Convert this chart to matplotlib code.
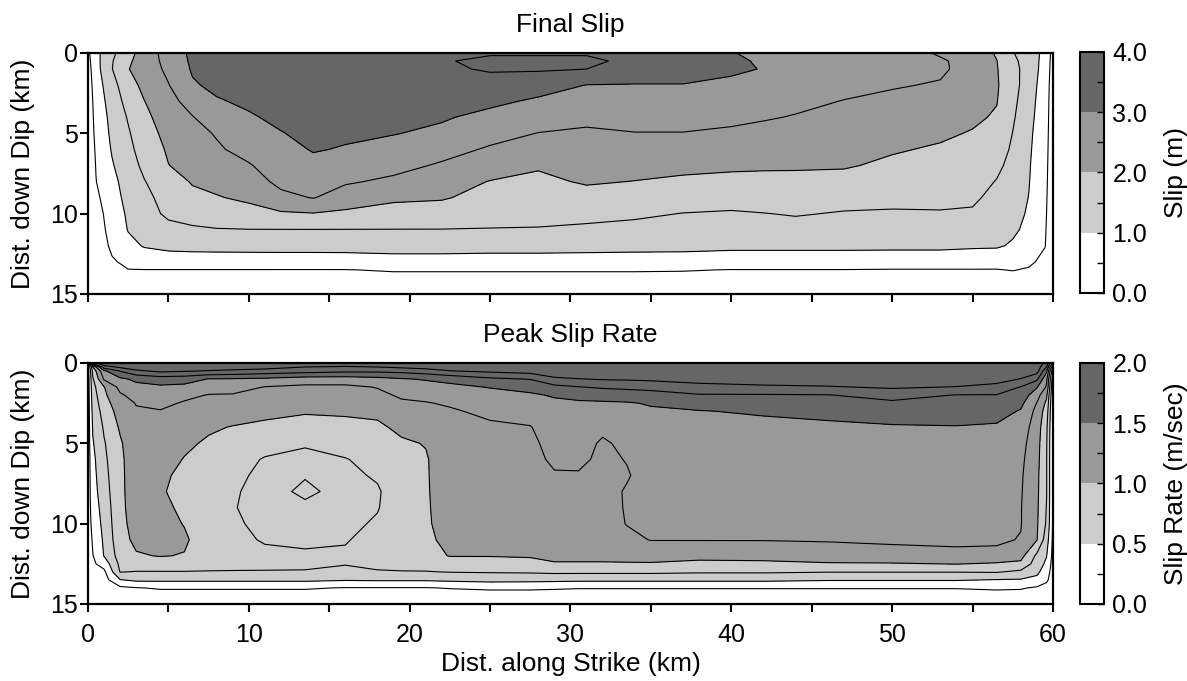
import numpy as np
import matplotlib
matplotlib.use("Agg")
import matplotlib.pyplot as plt
from matplotlib.colors import ListedColormap, BoundaryNorm
from matplotlib.cm import ScalarMappable

plt.rcParams['font.family'] = ['Liberation Sans', 'DejaVu Sans']

# ---- Final slip (m): one depth profile per strike position ----
slip_strike = [0, 0.5, 1.5, 2.5, 3.5, 5, 6.5, 8, 10, 12, 14, 16, 19, 22, 25, 28,
               31, 34, 37, 40, 42, 44, 47, 50, 53, 55, 56.5, 57.5, 58.5, 59.5, 60]
slip_dip = [0, 0.5, 1, 2, 3, 4, 5, 6, 7, 8, 9, 10, 11, 12, 13, 13.5, 14, 15]
slip_cols = [
    [0.40, 0.35, 0.30, 0.25, 0.20, 0.20, 0.18, 0.16, 0.14, 0.12, 0.10, 0.08, 0.06, 0.05, 0.03, 0.02, 0.01, 0.00],
    [0.86, 0.84, 0.82, 0.75, 0.70, 0.65, 0.61, 0.56, 0.52, 0.49, 0.40, 0.30, 0.25, 0.20, 0.15, 0.12, 0.10, 0.03],
    [1.40, 1.47, 1.49, 1.34, 1.23, 1.15, 1.10, 1.04, 0.96, 0.88, 0.81, 0.74, 0.68, 0.59, 0.45, 0.35, 0.25, 0.10],
    [1.83, 1.92, 1.98, 1.79, 1.67, 1.54, 1.45, 1.38, 1.30, 1.19, 1.14, 1.07, 1.02, 0.88, 0.60, 0.49, 0.40, 0.15],
    [2.21, 2.23, 2.23, 2.13, 1.99, 1.89, 1.80, 1.70, 1.60, 1.48, 1.38, 1.31, 1.10, 1.03, 0.75, 0.49, 0.40, 0.15],
    [2.72, 2.66, 2.60, 2.48, 2.34, 2.23, 2.14, 2.06, 1.99, 1.79, 1.68, 1.59, 1.36, 1.12, 0.75, 0.49, 0.40, 0.15],
    [3.10, 3.08, 3.05, 2.95, 2.70, 2.48, 2.38, 2.27, 2.16, 2.04, 1.88, 1.67, 1.44, 1.15, 0.75, 0.49, 0.40, 0.15],
    [3.25, 3.22, 3.20, 3.10, 2.96, 2.76, 2.53, 2.45, 2.30, 2.13, 1.97, 1.71, 1.48, 1.16, 0.75, 0.49, 0.40, 0.15],
    [3.35, 3.32, 3.30, 3.20, 3.08, 2.95, 2.80, 2.63, 2.47, 2.28, 2.09, 1.83, 1.49, 1.17, 0.75, 0.49, 0.40, 0.15],
    [3.40, 3.37, 3.35, 3.30, 3.20, 3.10, 2.98, 2.85, 2.70, 2.62, 2.38, 1.94, 1.49, 1.17, 0.76, 0.49, 0.40, 0.15],
    [3.45, 3.42, 3.40, 3.35, 3.28, 3.20, 3.12, 3.03, 2.88, 2.70, 2.52, 1.98, 1.49, 1.17, 0.76, 0.49, 0.40, 0.15],
    [3.45, 3.42, 3.40, 3.33, 3.25, 3.16, 3.07, 2.97, 2.76, 2.55, 2.30, 1.90, 1.49, 1.17, 0.77, 0.49, 0.40, 0.15],
    [3.45, 3.44, 3.42, 3.33, 3.22, 3.12, 3.02, 2.83, 2.63, 2.42, 2.09, 1.80, 1.49, 1.20, 0.80, 0.53, 0.40, 0.15],
    [3.45, 3.46, 3.42, 3.30, 3.18, 3.05, 2.90, 2.65, 2.45, 2.25, 2.05, 1.75, 1.49, 1.20, 0.80, 0.53, 0.40, 0.15],
    [3.45, 3.60, 3.55, 3.30, 3.10, 2.87, 2.65, 2.45, 2.30, 1.98, 1.82, 1.67, 1.48, 1.17, 0.80, 0.53, 0.40, 0.15],
    [3.45, 3.60, 3.55, 3.20, 2.93, 2.70, 2.49, 2.30, 2.05, 1.90, 1.80, 1.65, 1.47, 1.17, 0.80, 0.53, 0.40, 0.15],
    [3.45, 3.60, 3.50, 2.99, 2.80, 2.58, 2.45, 2.33, 2.20, 2.05, 1.83, 1.63, 1.42, 1.15, 0.80, 0.53, 0.40, 0.15],
    [3.40, 3.38, 3.25, 2.98, 2.80, 2.62, 2.49, 2.33, 2.17, 1.99, 1.78, 1.57, 1.38, 1.13, 0.80, 0.53, 0.40, 0.15],
    [3.40, 3.35, 3.25, 2.98, 2.80, 2.62, 2.49, 2.30, 2.12, 1.92, 1.71, 1.49, 1.33, 1.12, 0.80, 0.52, 0.40, 0.15],
    [3.02, 3.10, 3.08, 2.90, 2.73, 2.57, 2.45, 2.28, 2.08, 1.88, 1.66, 1.46, 1.30, 1.10, 0.75, 0.49, 0.40, 0.15],
    [2.90, 2.93, 2.98, 2.82, 2.68, 2.53, 2.40, 2.25, 2.06, 1.88, 1.70, 1.49, 1.32, 1.10, 0.75, 0.49, 0.40, 0.15],
    [2.80, 2.80, 2.78, 2.68, 2.58, 2.48, 2.37, 2.23, 2.05, 1.89, 1.74, 1.53, 1.35, 1.10, 0.75, 0.49, 0.40, 0.15],
    [2.75, 2.73, 2.70, 2.60, 2.49, 2.40, 2.29, 2.17, 2.04, 1.86, 1.65, 1.47, 1.32, 1.10, 0.75, 0.49, 0.40, 0.15],
    [2.72, 2.68, 2.63, 2.53, 2.42, 2.30, 2.17, 2.04, 1.92, 1.78, 1.60, 1.46, 1.30, 1.10, 0.72, 0.48, 0.38, 0.14],
    [2.45, 2.55, 2.56, 2.47, 2.35, 2.22, 2.07, 1.95, 1.83, 1.73, 1.60, 1.47, 1.30, 1.10, 0.72, 0.48, 0.38, 0.14],
    [2.30, 2.35, 2.35, 2.30, 2.20, 2.08, 1.97, 1.88, 1.78, 1.68, 1.57, 1.45, 1.28, 1.06, 0.72, 0.48, 0.38, 0.14],
    [1.95, 2.01, 2.03, 2.05, 2.02, 1.95, 1.85, 1.72, 1.60, 1.48, 1.38, 1.30, 1.20, 1.05, 0.70, 0.48, 0.36, 0.13],
    [1.52, 1.60, 1.65, 1.68, 1.62, 1.56, 1.49, 1.43, 1.36, 1.30, 1.22, 1.15, 1.07, 0.95, 0.65, 0.52, 0.35, 0.12],
    [1.30, 1.30, 1.30, 1.25, 1.20, 1.15, 1.10, 1.07, 1.04, 1.02, 0.99, 0.95, 0.90, 0.80, 0.60, 0.45, 0.30, 0.10],
    [0.85, 0.82, 0.80, 0.75, 0.72, 0.70, 0.68, 0.66, 0.64, 0.62, 0.60, 0.58, 0.55, 0.52, 0.35, 0.25, 0.20, 0.05],
    [0.35, 0.32, 0.30, 0.28, 0.27, 0.26, 0.25, 0.24, 0.23, 0.22, 0.20, 0.18, 0.16, 0.14, 0.10, 0.08, 0.05, 0.00],
]

# ---- Peak slip rate (m/sec): one depth profile per strike position ----
rate_strike = [0, 0.3, 1, 2, 3, 4.5, 6, 7.5, 9, 11, 13.5, 16, 18, 19.5, 21, 22.5, 25,
               27.5, 29, 30.5, 32, 33.5, 35, 38, 42, 46, 50, 54, 56.5, 58, 59, 59.6, 60]
rate_dip = [0, 0.25, 0.5, 1, 1.5, 2, 2.5, 3, 4, 5, 6, 7, 8, 9, 10, 11, 12, 12.5, 13, 13.5, 14, 15]
rate_cols = [
    [0.20, 0.15, 0.15, 0.12, 0.12, 0.12, 0.12, 0.12, 0.12, 0.12, 0.12, 0.12, 0.12, 0.12, 0.12, 0.10, 0.08, 0.05, 0.03, 0.02, 0.01, 0.00],
    [1.90, 1.00, 0.82, 0.72, 0.67, 0.63, 0.60, 0.57, 0.52, 0.48, 0.44, 0.42, 0.40, 0.37, 0.33, 0.28, 0.24, 0.21, 0.18, 0.15, 0.10, 0.00],
    [2.20, 1.88, 1.45, 1.28, 0.99, 0.95, 0.90, 0.85, 0.78, 0.73, 0.70, 0.67, 0.64, 0.60, 0.57, 0.54, 0.51, 0.35, 0.20, 0.15, 0.10, 0.02],
    [2.30, 2.05, 1.76, 1.45, 1.32, 1.22, 1.15, 1.10, 1.03, 0.97, 0.95, 0.95, 0.95, 0.95, 0.94, 0.92, 0.86, 0.81, 0.76, 0.49, 0.20, 0.05],
    [2.35, 2.15, 1.95, 1.55, 1.43, 1.33, 1.26, 1.23, 1.20, 1.17, 1.15, 1.13, 1.12, 1.10, 1.08, 1.05, 0.98, 0.88, 0.74, 0.55, 0.24, 0.05],
    [2.35, 2.20, 2.05, 1.62, 1.46, 1.38, 1.30, 1.24, 1.18, 1.13, 1.09, 1.05, 1.02, 1.05, 1.08, 1.07, 1.01, 0.90, 0.74, 0.55, 0.27, 0.05],
    [2.30, 2.18, 2.02, 1.60, 1.44, 1.30, 1.23, 1.18, 1.10, 1.04, 0.99, 0.94, 0.94, 0.96, 0.99, 1.03, 0.99, 0.90, 0.74, 0.55, 0.27, 0.05],
    [2.30, 2.15, 1.98, 1.49, 1.35, 1.24, 1.18, 1.12, 1.03, 0.97, 0.92, 0.88, 0.86, 0.86, 0.87, 0.88, 0.86, 0.82, 0.74, 0.55, 0.27, 0.05],
    [2.30, 2.12, 1.95, 1.48, 1.36, 1.23, 1.16, 1.10, 0.99, 0.93, 0.86, 0.80, 0.77, 0.76, 0.78, 0.81, 0.82, 0.80, 0.74, 0.55, 0.27, 0.05],
    [2.30, 2.10, 1.90, 1.45, 1.24, 1.18, 1.12, 1.05, 0.96, 0.85, 0.73, 0.70, 0.69, 0.69, 0.70, 0.73, 0.80, 0.79, 0.74, 0.55, 0.27, 0.05],
    [2.30, 2.00, 1.85, 1.38, 1.20, 1.14, 1.08, 1.02, 0.92, 0.77, 0.70, 0.74, 0.78, 0.72, 0.69, 0.71, 0.78, 0.78, 0.74, 0.55, 0.27, 0.05],
    [2.30, 1.95, 1.80, 1.38, 1.20, 1.14, 1.08, 1.03, 0.94, 0.84, 0.74, 0.71, 0.70, 0.70, 0.71, 0.74, 0.77, 0.76, 0.70, 0.52, 0.24, 0.05],
    [2.30, 2.00, 1.80, 1.42, 1.26, 1.20, 1.12, 1.05, 0.96, 0.89, 0.82, 0.77, 0.73, 0.74, 0.77, 0.80, 0.80, 0.78, 0.74, 0.53, 0.24, 0.05],
    [2.30, 2.05, 1.82, 1.48, 1.37, 1.28, 1.22, 1.15, 1.05, 0.97, 0.92, 0.88, 0.86, 0.86, 0.87, 0.88, 0.87, 0.82, 0.74, 0.53, 0.24, 0.05],
    [2.30, 2.10, 1.88, 1.52, 1.40, 1.30, 1.24, 1.20, 1.10, 1.01, 0.98, 0.98, 0.98, 0.98, 0.98, 0.97, 0.92, 0.85, 0.74, 0.53, 0.24, 0.05],
    [2.30, 2.12, 1.99, 1.56, 1.45, 1.35, 1.27, 1.23, 1.19, 1.16, 1.14, 1.12, 1.10, 1.08, 1.06, 1.04, 1.01, 0.88, 0.76, 0.55, 0.26, 0.05],
    [2.35, 2.20, 2.05, 1.70, 1.51, 1.43, 1.35, 1.29, 1.22, 1.18, 1.15, 1.13, 1.11, 1.09, 1.07, 1.05, 1.01, 0.90, 0.77, 0.58, 0.28, 0.05],
    [2.35, 2.25, 2.10, 1.76, 1.57, 1.47, 1.40, 1.34, 1.24, 1.20, 1.18, 1.16, 1.14, 1.12, 1.09, 1.06, 1.02, 0.93, 0.78, 0.57, 0.28, 0.05],
    [2.40, 2.30, 2.18, 1.95, 1.68, 1.52, 1.46, 1.42, 1.37, 1.33, 1.29, 1.23, 1.18, 1.15, 1.12, 1.08, 1.03, 0.99, 0.80, 0.56, 0.27, 0.05],
    [2.40, 2.32, 2.22, 1.99, 1.74, 1.56, 1.47, 1.43, 1.38, 1.34, 1.30, 1.23, 1.18, 1.15, 1.12, 1.08, 1.03, 0.99, 0.80, 0.55, 0.26, 0.05],
    [2.40, 2.32, 2.22, 2.02, 1.78, 1.60, 1.47, 1.42, 1.30, 1.22, 1.20, 1.19, 1.17, 1.15, 1.12, 1.08, 1.03, 0.99, 0.80, 0.55, 0.26, 0.05],
    [2.40, 2.33, 2.24, 2.03, 1.80, 1.63, 1.48, 1.44, 1.36, 1.30, 1.26, 1.23, 1.27, 1.27, 1.26, 1.18, 1.04, 0.99, 0.80, 0.55, 0.26, 0.05],
    [2.40, 2.35, 2.27, 2.05, 1.82, 1.66, 1.52, 1.47, 1.42, 1.39, 1.37, 1.35, 1.33, 1.30, 1.28, 1.26, 1.05, 0.99, 0.80, 0.55, 0.26, 0.05],
    [2.40, 2.35, 2.28, 2.09, 1.92, 1.73, 1.60, 1.49, 1.44, 1.41, 1.38, 1.36, 1.34, 1.31, 1.28, 1.26, 1.06, 0.95, 0.78, 0.55, 0.26, 0.05],
    [2.40, 2.36, 2.30, 2.15, 1.95, 1.73, 1.63, 1.53, 1.43, 1.42, 1.39, 1.37, 1.34, 1.31, 1.28, 1.26, 1.08, 0.95, 0.78, 0.55, 0.26, 0.05],
    [2.40, 2.36, 2.30, 2.15, 1.98, 1.74, 1.66, 1.57, 1.45, 1.43, 1.40, 1.38, 1.35, 1.32, 1.30, 1.27, 1.12, 0.98, 0.76, 0.52, 0.26, 0.05],
    [2.40, 2.37, 2.32, 2.18, 2.03, 1.85, 1.70, 1.60, 1.48, 1.44, 1.41, 1.39, 1.36, 1.33, 1.30, 1.28, 1.18, 0.98, 0.76, 0.52, 0.26, 0.05],
    [2.40, 2.37, 2.32, 2.16, 1.99, 1.74, 1.68, 1.60, 1.49, 1.45, 1.42, 1.40, 1.37, 1.34, 1.31, 1.29, 1.20, 1.01, 0.76, 0.52, 0.26, 0.05],
    [2.40, 2.35, 2.28, 2.10, 1.92, 1.74, 1.66, 1.59, 1.47, 1.43, 1.40, 1.38, 1.36, 1.33, 1.30, 1.28, 1.20, 0.97, 0.77, 0.49, 0.28, 0.05],
    [2.35, 2.25, 2.15, 1.99, 1.74, 1.65, 1.56, 1.48, 1.38, 1.33, 1.30, 1.28, 1.27, 1.26, 1.26, 1.24, 1.08, 0.95, 0.70, 0.48, 0.27, 0.05],
    [2.20, 2.15, 2.10, 1.80, 1.52, 1.35, 1.24, 1.18, 1.13, 1.10, 1.08, 1.06, 1.05, 1.04, 1.03, 1.01, 0.70, 0.63, 0.55, 0.44, 0.22, 0.03],
    [1.90, 1.75, 1.55, 1.30, 1.22, 1.05, 0.95, 0.88, 0.80, 0.77, 0.76, 0.76, 0.76, 0.74, 0.72, 0.62, 0.51, 0.45, 0.38, 0.30, 0.15, 0.02],
    [1.20, 0.80, 0.55, 0.35, 0.28, 0.25, 0.24, 0.23, 0.22, 0.22, 0.22, 0.22, 0.22, 0.22, 0.22, 0.20, 0.18, 0.15, 0.12, 0.10, 0.06, 0.00],
]

grays = ['white', '#cccccc', '#999999', '#666666']
slip_bounds = [0, 1, 2, 3, 4]
rate_bounds = [0, 0.5, 1.0, 1.5, 2.0]

fig = plt.figure(figsize=(11.87, 6.81), dpi=100)
ax1 = fig.add_axes([0.0741, 0.5683, 0.8130, 0.3539])
ax2 = fig.add_axes([0.0741, 0.1131, 0.8130, 0.3539])
cax1 = fig.add_axes([0.9099, 0.5698, 0.0202, 0.3539])
cax2 = fig.add_axes([0.9099, 0.1131, 0.0202, 0.3539])

# final slip panel
z1 = np.array(slip_cols).T
ax1.contourf(slip_strike, slip_dip, z1, levels=slip_bounds, colors=grays)
ax1.contour(slip_strike, slip_dip, z1, levels=np.arange(0.5, 4.0, 0.5),
            colors='k', linewidths=0.8)
ax1.set_title('Final Slip', fontsize=19, pad=15)

# peak slip rate panel
z2 = np.array(rate_cols).T
ax2.contourf(rate_strike, rate_dip, z2, levels=rate_bounds + [3.0],
             colors=grays + ['#666666'])
ax2.contour(rate_strike, rate_dip, z2, levels=np.arange(0.25, 2.01, 0.25),
            colors='k', linewidths=0.8)
ax2.set_title('Peak Slip Rate', fontsize=19, pad=15)

xt = list(range(0, 61, 5))
for ax in (ax1, ax2):
    ax.set_xlim(0, 60)
    ax.set_ylim(15, 0)
    ax.set_xticks(xt)
    ax.set_yticks([0, 5, 10, 15])
    ax.set_ylabel('Dist. down Dip (km)', fontsize=19, labelpad=11)
    ax.tick_params(direction='out', length=6, width=1.5, labelsize=18)
    ax.tick_params(axis='x', pad=8)
    ax.tick_params(axis='y', pad=1)
    for s in ax.spines.values():
        s.set_linewidth(1.6)
ax1.set_xticklabels([])
ax2.set_xticklabels([str(v) if v % 10 == 0 else '' for v in xt])
ax2.set_xlabel('Dist. along Strike (km)', fontsize=19, labelpad=3)

# colour bars
for cax, bounds, label, tl in (
        (cax1, slip_bounds, 'Slip (m)', ['0.0', '1.0', '2.0', '3.0', '4.0']),
        (cax2, rate_bounds, 'Slip Rate (m/sec)', ['0.0', '0.5', '1.0', '1.5', '2.0'])):
    sm = ScalarMappable(norm=BoundaryNorm(bounds, 4), cmap=ListedColormap(grays))
    cb = fig.colorbar(sm, cax=cax, ticks=bounds)
    cb.ax.set_yticklabels(tl)
    half = (bounds[1] - bounds[0]) / 2
    cb.ax.set_yticks([b + half for b in bounds[:-1]], minor=True)
    cb.ax.tick_params(which='both', direction='in', length=5, width=1,
                      labelsize=18, pad=6)
    cb.outline.set_linewidth(1.5)
    cb.set_label(label, fontsize=19, labelpad=12)

fig.savefig('out.png', dpi=100)
